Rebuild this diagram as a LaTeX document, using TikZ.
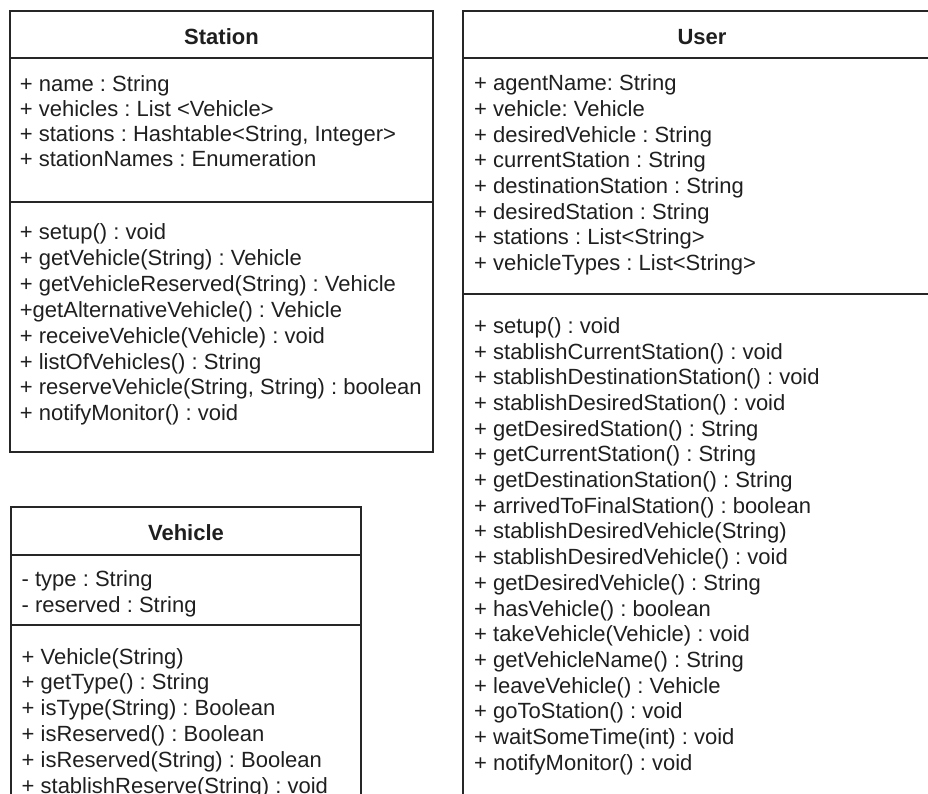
\documentclass[tikz,border=0pt]{standalone}
\usepackage{fontspec}
\setmainfont{Liberation Sans}
\frenchspacing

\begin{document}
\begin{tikzpicture}[x=1pt, y=-1pt,
	every node/.style={font=\fontsize{22}{26}\selectfont, text=black!88},
	classbox/.style={draw=black!85, line width=1.4pt},
	classname/.style={font=\fontsize{22}{26}\selectfont\bfseries, anchor=base, inner sep=0pt},
	member/.style={anchor=base west, inner sep=0pt}]
	\useasboundingbox (0,0) rectangle (928,794);
	\clip (0,0) rectangle (928,794);
	% Station
	\draw[classbox] (10,11) rectangle (433,452);
	\draw[classbox] (10,58) -- (433,58);
	\draw[classbox] (10,202) -- (433,202);
	\node[classname] (station) at (221.5,44.3) {Station};
	\foreach \txt [count=\i from 0] in {+ name : String, + vehicles : List <Vehicle>, {+ stations : Hashtable<String, Integer>}, + stationNames : Enumeration}
		\node[member] (station-attr\i) at (19.7,91.7+25*\i) {\txt};
	\foreach \txt [count=\i from 0] in {+ setup() : void, + getVehicle(String) : Vehicle, + getVehicleReserved(String) : Vehicle, +getAlternativeVehicle() : Vehicle, + receiveVehicle(Vehicle) : void, + listOfVehicles() : String, {+ reserveVehicle(String, String) : boolean}, + notifyMonitor() : void}
		\node[member] (station-op\i) at (19.7,240+25.8*\i) {\txt};
	% User
	\draw[classbox] (463,11) rectangle (941,820);
	\draw[classbox] (463,58) -- (941,58);
	\draw[classbox] (463,294) -- (941,294);
	\node[classname] (user) at (702,44.3) {User};
	\foreach \txt [count=\i from 0] in {+ agentName: String, + vehicle: Vehicle, + desiredVehicle : String, + currentStation : String, + destinationStation : String, + desiredStation : String, + stations : List<String>, + vehicleTypes : List<String>}
		\node[member] (user-attr\i) at (474,90.7+25.7*\i) {\txt};
	\foreach \txt [count=\i from 0] in {+ setup() : void, + stablishCurrentStation() : void, + stablishDestinationStation() : void, + stablishDesiredStation() : void, + getDesiredStation() : String, + getCurrentStation() : String, + getDestinationStation() : String, + arrivedToFinalStation() : boolean, + stablishDesiredVehicle(String), + stablishDesiredVehicle() : void, + getDesiredVehicle() : String, + hasVehicle() : boolean, + takeVehicle(Vehicle) : void, + getVehicleName() : String, + leaveVehicle() : Vehicle, + goToStation() : void, + waitSomeTime(int) : void, + notifyMonitor() : void}
		\node[member] (user-op\i) at (474,333.3+25.7*\i) {\txt};
	% Vehicle
	\draw[classbox] (11,507) rectangle (361,820);
	\draw[classbox] (11,555) -- (361,555);
	\draw[classbox] (11,625) -- (361,625);
	\node[classname] (vehicle) at (186,540.7) {Vehicle};
	\foreach \txt [count=\i from 0] in {- type : String, - reserved : String}
		\node[member] (vehicle-attr\i) at (21.5,586.7+26*\i) {\txt};
	\foreach \txt [count=\i from 0] in {+ Vehicle(String), + getType() : String, + isType(String) : Boolean, + isReserved() : Boolean, + isReserved(String) : Boolean, + stablishReserve(String) : void}
		\node[member] (vehicle-op\i) at (21.5,664+25.9*\i) {\txt};
\end{tikzpicture}
\end{document}
